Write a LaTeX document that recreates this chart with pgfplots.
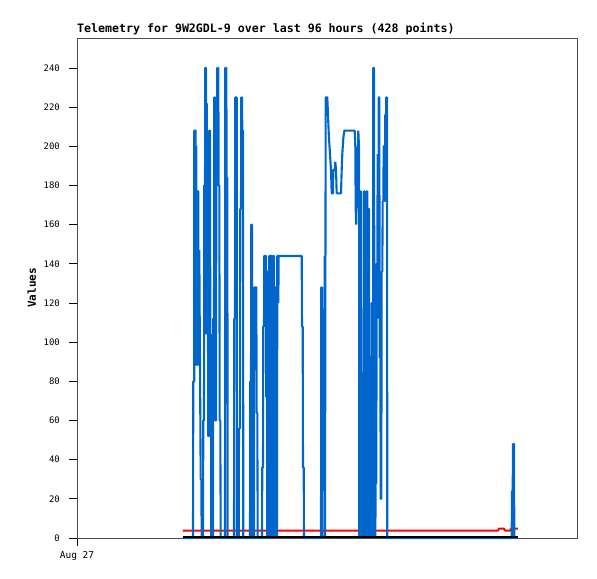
\documentclass[border=0pt]{standalone}
\usepackage{fontspec}
\setmainfont{DejaVu Sans Mono}
\usepackage{pgfplots}
\pgfplotsset{compat=1.18}
\definecolor{tblue}{RGB}{0,102,204}
\begin{document}
\begin{tikzpicture}
\useasboundingbox (-77bp,-41bp) rectangle (520bp,538bp);
\begin{axis}[
  at={(0,0)}, anchor=south west,
  scale only axis, width=500bp, height=500bp,
  xmin=77, xmax=577, ymin=0, ymax=255.3,
  xtick={77}, xticklabels={Aug 27},
  ytick={0,20,...,240},
  tick pos=left, tick align=outside, major tick length=8bp,
  tick style={black, line width=0.8bp},
  axis line style={black!70, line width=0.9bp},
  /pgf/number format/assume math mode=true,
  yticklabel style={font=\fontsize{9}{10}\selectfont, anchor=east, inner sep=0pt, xshift=-9bp},
  xticklabel style={font=\fontsize{9.5}{10}\selectfont, anchor=north, inner sep=0pt, yshift=-5bp},
  clip=false,
]
\addplot[red, line width=2bp, line join=bevel] coordinates {
(183,3.8)(498,3.8)(499,4.8)(504,4.8)(505,3.8)(510,3.8)(511,4.8)(518,4.8)};
\addplot[tblue, line width=2.1bp, line join=bevel] coordinates {
(183,0)
(193,0)(193.3,80)(194.3,80)(194.3,208)(195.7,208)(195.7,200)(196.3,200)(196.7,88)(197.3,177)(198.3,177)(198.3,88)(199.3,147)(200,88)(200.7,30)(201.3,30)(201.7,0)
(203,0)(203.3,60)(204,60)(204.3,180)(205,180)(205.3,240)(206,240)(206,104)(206.7,222)(207,104)(207.7,156)(208.3,52)(209,52)(209.3,208)(210,208)(210.3,104)(211,104)(211.3,0)
(213,0)(213.3,112)(214,112)(214.3,225)(215,225)(215.3,60)(216,60)(216.3,180)(217,180)(217.3,240)(218.3,240)(218.7,180)(219.3,180)(219.7,60)(220.3,60)(220.7,0)
(225,0)(225.3,240)(226.3,240)(226.7,184)(227.3,184)(227.7,0)
(234,0)(234.3,112)(235,112)(235.3,225)(236.7,225)(237,0)
(238.7,0)(239,56)(240,56)(240.3,168)(241,168)(241.3,225)(242,225)(242.3,208)(243,208)(243.3,0)
(250,0)(250.3,80)(251,80)(251.3,160)(252,160)(252.3,0)
(254,0)(254.3,128)(256.3,128)(256.7,64)(257.3,64)(257.7,0)
(262,0)(262.3,36)(263,36)(263.3,108)(264,108)(264.3,144)(266,144)(266.3,72)(267,72)(267.3,0)(268,0)(268.3,136)(269,136)(269.3,144)(270,144)(270.3,0)(270.7,0)(271,144)(271.7,144)(272,72)(272.7,72)(273,0)(273.3,144)(274,144)(274.3,72)(275,0)(275.3,128)(276.3,128)(276.7,72)(277,0)(277.3,144)(278,144)(278.3,120)(278.7,144)(301.7,144)(302,108)(302.7,108)(303,36)(303.7,36)(304,0)
(321,0)(321.3,128)(322,128)(322.3,0)(322.7,64)(323.3,64)(323.7,72)(324.3,72)(324.7,144)(325,0)(325.7,225)(327.3,225)(327.7,220)(328.3,212)(329,204)(330,196)(331,188)(331.7,176)(333,176)(333.3,188)(335,188)(335.3,192)(336,188)(336.7,176)(341,176)(341.7,188)(342.3,196)(343.3,204)(344.3,208)(354.7,208)(355.3,200)(355.7,168)(356.3,160)(357,200)(357.7,184)(358.3,208)(359,200)(359.3,0)
(360,0)(360.3,177)(361,177)(361.3,88)(361.7,80)(362.3,0)(363,80)(363.7,0)(364,177)(364.7,177)(365,80)(365.7,177)(366.3,0)(366.7,177)(367.3,177)(368,0)(368.3,168)(369,168)(369.3,56)(370,56)(370.3,0)(370.7,56)(371.3,0)(371.7,120)(372.7,120)(373,0)(373.3,240)(374,240)(374.3,120)(375,120)(375.3,0)(375.7,28)(376.3,28)(376.7,140)(377.3,140)(377.7,196)(378.3,112)(378.7,225)(379.3,225)(379.7,92)(380.3,112)(380.7,20)(381.3,20)(381.7,136)(382.3,136)(382.7,172)(383.3,172)(383.7,200)(384.3,200)(384.7,172)(385,172)(385.3,216)(386,216)(386.3,225)(387,225)(387.3,0)
(511.7,0)(512,24)(512.7,24)(513,48)(514,48)(514.3,0)(518,0)};
\addplot[black, line width=2bp] coordinates {(183.3,0.3)(518,0.3)};
\end{axis}
\node[anchor=base west, font=\fontsize{11.65}{12}\selectfont\bfseries, inner sep=0pt] at (0bp,505bp) {Telemetry for 9W2GDL-9 over last 96 hours (428 points)};
\node[rotate=90, font=\fontsize{11}{12}\selectfont\bfseries, inner sep=0pt] at (-45.3bp,250bp) {Values};
\end{tikzpicture}
\end{document}
